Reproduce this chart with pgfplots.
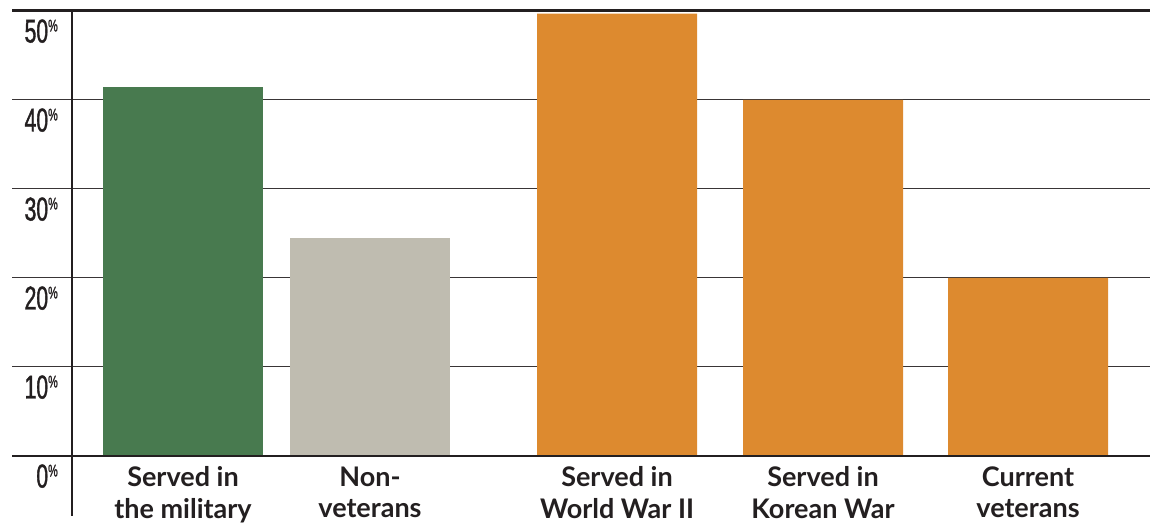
\documentclass[border=0pt]{standalone}
\usepackage{fontspec}
\usepackage{pgfplots}
\pgfplotsset{compat=1.18}
\setmainfont{Lato}
\newfontfamily\labelfont{Lato}[BoldFont={Lato Bold}]
\newfontfamily\tickfont[FakeStretch=0.64,FakeBold=1.2]{Liberation Sans}
\definecolor{cgreen}{HTML}{487A4F}
\definecolor{cgray}{HTML}{BFBCB0}
\definecolor{corange}{HTML}{DD8A2F}
\definecolor{ctext}{HTML}{231F20}
\newcommand{\pct}{\raisebox{11pt}{\fontsize{17}{17}\selectfont\%}}
\begin{document}
\begin{tikzpicture}
\begin{axis}[
  name=ax,
  width=1138pt, height=445pt, scale only axis,
  xmin=12, xmax=1150, ymin=0, ymax=50,
  axis line style={draw=none},
  tick style={draw=none},
  ytick={0,10,20,30,40,50},
  yticklabels={0\pct,10\pct,20\pct,30\pct,40\pct,50\pct},
  yticklabel style={font=\tickfont\fontsize{33}{33}\selectfont, text=ctext, anchor=base east, inner sep=0pt, xshift=46pt, yshift=-31.5pt},
  xtick={183,370,617,823,1028},
  xticklabels={Served in\\the military, Non-\\veterans, Served in\\World War II, Served in\\Korean War, Current\\veterans},
  xticklabel style={font=\labelfont\bfseries\fontsize{27}{31.5}\selectfont, text=ctext, align=center, anchor=north, inner sep=0pt, yshift=-10.5pt},
  ymajorgrids,
  major grid style={line width=1pt, color=ctext!90},
  clip=false,
]
\addplot[ybar, bar shift=0pt, bar width=160, fill=cgreen, draw=none] coordinates {(183,41.5)};
\addplot[ybar, bar shift=0pt, bar width=160, fill=cgray, draw=none] coordinates {(370,24.5)};
\addplot[ybar, bar shift=0pt, bar width=160, fill=corange, draw=none] coordinates {(617,49.7) (823,40) (1028,20)};
\draw[line width=3pt, ctext] (axis cs:12,50) -- (axis cs:1150,50);
\draw[line width=2pt, ctext] (axis cs:12,0) -- (axis cs:1150,0);
\draw[line width=2pt, ctext] (axis cs:72,50.15) -- (axis cs:72,-6.74);
\end{axis}
\pgfresetboundingbox
\path ([xshift=-12pt,yshift=11pt]ax.north west) rectangle ([xshift=3pt,yshift=-68pt]ax.south east);
\end{tikzpicture}
\end{document}
